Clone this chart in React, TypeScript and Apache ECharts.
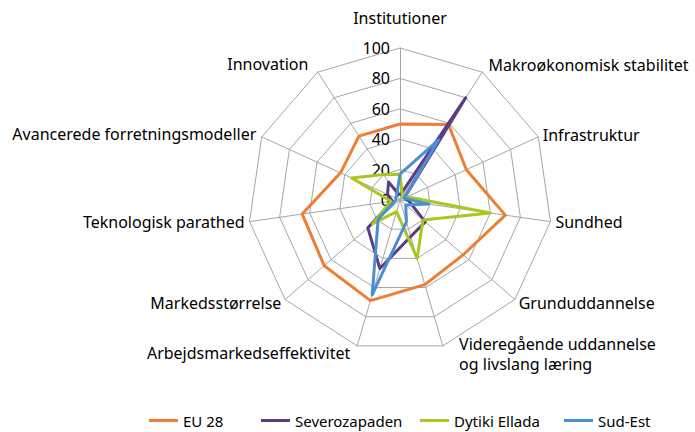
import React, { useEffect, useRef } from "react";
import * as echarts from "echarts";

const indicators = [
  "Institutioner",
  "Makroøkonomisk stabilitet",
  "Infrastruktur",
  "Sundhed",
  "Grunduddannelse",
  "Videregående uddannelse\nog livslang læring",
  "Arbejdsmarkedseffektivitet",
  "Markedsstørrelse",
  "Teknologisk parathed",
  "Avancerede forretningsmodeller",
  "Innovation",
];

const seriesNames = ["EU 28", "Severozapaden", "Dytiki Ellada", "Sud-Est"];
const eu28 = [50, 59, 48, 70, 55, 58, 69, 66, 65, 43, 50];
const severozapaden = [3, 80, 3, 6, 22, 25, 47, 28, 5, 9, 14];
const dytikiEllada = [17, 3, 5, 60, 20, 40, 8, 24, 6, 35, 20];
const sudEst = [17, 47, 3, 19, 5, 15, 65, 19, 3, 3, 4];
const seriesValues = [eu28, severozapaden, dytikiEllada, sudEst];
const colors = ["#EF7D32", "#5A3D85", "#A9C720", "#4B8FD3"];

// per-indicator label layout tweaks (in the original clockwise order)
const nameGaps = [20, 8, 5, 4, 5, 8, 7, 5, 5, 6, 10];
const namePads: number[][] = [
  [0, 0, 0, 0],
  [0, 0, 0, 2],
  [0, 0, 0, 0],
  [0, 0, 0, 1],
  [0, 0, 0, 0],
  [0, 0, 0, 14],
  [0, 5, 0, 0],
  [0, 0, 0, 0],
  [0, 0, 0, 0],
  [0, 0, 0, 0],
  [0, 4, 0, 0],
];
const legendLefts = [149, 261, 420, 564];

// ECharts lays indicators out counter-clockwise; reorder to draw clockwise
const order = indicators.map((_, j) => (j === 0 ? 0 : indicators.length - j));

export default function App() {
  const ref = useRef<HTMLDivElement>(null);
  useEffect(() => {
    if (!ref.current) return;
    const chart = echarts.init(ref.current, undefined, { renderer: "svg" });
    const option: any = {
      animation: false,
      backgroundColor: "#ffffff",
      textStyle: { fontFamily: "Noto Sans" },
      legend: seriesNames.map((n, i) => ({
        data: [n],
        left: legendLefts[i],
        top: 413,
        padding: 0,
        icon: "rect",
        itemWidth: 29,
        itemHeight: 3,
        itemGap: 5,
        textStyle: { fontSize: 15, color: "#000", fontFamily: "Noto Sans" },
      })),
      radar: {
        center: [400, 200],
        radius: 152,
        startAngle: 90,
        shape: "polygon",
        splitNumber: 5,
        axisName: { color: "#000", fontSize: 16, fontFamily: "Noto Sans" },
        axisLine: { show: true, lineStyle: { color: "#A6A6A6", width: 1 } },
        splitLine: { show: true, lineStyle: { color: "#A6A6A6", width: 1 } },
        splitArea: { show: false },
        axisTick: { show: false },
        axisLabel: { show: false },
        indicator: order.map((i) => {
          const ind: any = {
            name: indicators[i],
            min: 0,
            max: 100,
            nameGap: nameGaps[i],
            nameTextStyle: { padding: namePads[i], lineHeight: 20 },
          };
          if (i === 0) {
            ind.axisLabel = {
              show: true,
              color: "#000",
              fontSize: 16,
              fontFamily: "Noto Sans",
              margin: 10,
              showMinLabel: true,
              showMaxLabel: true,
            };
          }
          return ind;
        }),
      },
      series: seriesNames.map((n, i) => ({
        name: n,
        type: "radar",
        symbol: "none",
        color: colors[i],
        lineStyle: { color: colors[i], width: 3 },
        itemStyle: { color: colors[i] },
        data: [{ name: n, value: order.map((k) => seriesValues[i][k]) }],
      })),
    };
    chart.setOption(option);
    return () => chart.dispose();
  }, []);
  return (
    <div
      ref={ref}
      style={{ position: "absolute", left: 0, top: 0, width: 695, height: 432 }}
    />
  );
}
